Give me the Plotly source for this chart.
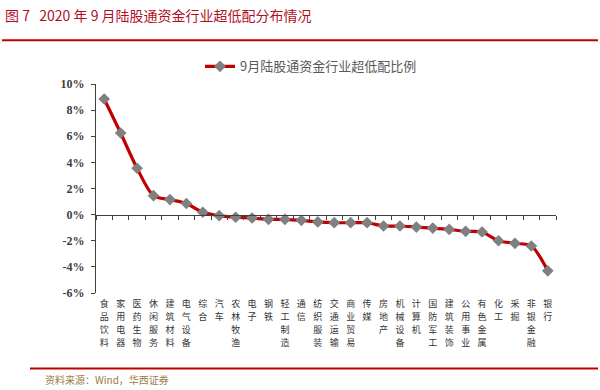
import plotly.graph_objects as go

categories = ["食品饮料", "家用电器", "医药生物", "休闲服务", "建筑材料", "电气设备", "综合", "汽车",
              "农林牧渔", "电子", "钢铁", "轻工制造", "通信", "纺织服装", "交通运输", "商业贸易",
              "传媒", "房地产", "机械设备", "计算机", "国防军工", "建筑装饰", "公用事业", "有色金属",
              "化工", "采掘", "非银金融", "银行"]
values = [8.85, 6.25, 3.55, 1.45, 1.15, 0.85, 0.18, -0.08, -0.20, -0.26, -0.36, -0.36, -0.44, -0.56,
          -0.62, -0.62, -0.62, -0.87, -0.87, -0.95, -1.03, -1.13, -1.28, -1.33, -2.00, -2.20, -2.40, -4.30]
series_name = "9月陆股通资金行业超低配比例"
y_ticks = [-6, -4, -2, 0, 2, 4, 6, 8, 10]
title_text = "图 7\u00a0\u00a0\u00a02020 年 9 月陆股通资金行业超低配分布情况"
source_text = "资料来源：Wind，华西证券"

W, H = 600, 390
L, R, T, B = 96, 44, 84.3, 97.3
pw, ph = W - L - R, H - T - B
n = len(categories)


def px_x(p):
    return (p - L) / pw


def px_y(p):
    return (H - B - p) / ph


fig = go.Figure()
fig.add_trace(go.Scatter(
    x=categories, y=values, name=series_name, mode="lines+markers",
    line=dict(color="#C00000", width=3.2, shape="spline", smoothing=0.8),
    marker=dict(symbol="diamond", size=9, color="#808080"),
))

ymin, ymax = -6, 10
zero_pos = (0 - ymin) / (ymax - ymin)
xr = [-0.5, n - 0.5]

layout_axes = dict(
    xaxis=dict(type="category", showticklabels=False, showline=False, ticks="",
               showgrid=False, zeroline=False, range=xr, automargin=False),
    xaxis2=dict(overlaying="x", anchor="free", position=zero_pos, range=xr,
                showline=True, linecolor="#404040", linewidth=1.2, ticks="outside",
                ticklen=4, tickcolor="#404040", tick0=-0.5, dtick=1,
                showticklabels=False, showgrid=False, zeroline=False, automargin=False),
    yaxis=dict(range=[ymin, ymax], tickvals=y_ticks, ticktext=[f"{v}%" for v in y_ticks],
               showline=True, linecolor="#404040", linewidth=1.2, ticks="outside", ticklen=4,
               tickcolor="#404040", showgrid=False, zeroline=False, automargin=False,
               ticklabelstandoff=4,
               tickfont=dict(family="Liberation Serif", size=12, color="#404040", weight="bold")),
)

# category labels: stacked characters, one overlay axis per character row
max_len = max(len(c) for c in categories)
row_gap = 13
for k in range(max_len):
    name = f"xaxis{3 + k}"
    layout_axes[name] = dict(
        overlaying="x", anchor="y", side="bottom", range=xr,
        tickmode="array", tickvals=list(range(n)),
        ticktext=[c[k] if len(c) > k else "" for c in categories],
        showline=False, ticks="", showgrid=False, zeroline=False, automargin=False,
        ticklabelstandoff=int(4 + k * row_gap),
        tickfont=dict(family="Noto Sans CJK SC", size=9, color="#333333"),
    )
    fig.add_trace(go.Scatter(x=[0], y=[0], xaxis=f"x{3 + k}", mode="markers",
                             marker=dict(opacity=0), showlegend=False, hoverinfo="skip"))

fig.add_trace(go.Scatter(x=[0], y=[0], xaxis="x2", mode="markers",
                         marker=dict(opacity=0), showlegend=False, hoverinfo="skip"))

fig.update_layout(
    width=W, height=H,
    margin=dict(l=L, r=R, t=T, b=B),
    paper_bgcolor="white", plot_bgcolor="white",
    showlegend=True,
    legend=dict(x=px_x(200), y=px_y(66.7), xanchor="left", yanchor="middle",
                font=dict(family="Noto Sans CJK SC", size=13, color="#595959"),
                bgcolor="rgba(0,0,0,0)"),
    shapes=[
        dict(type="line", xref="paper", yref="paper", x0=px_x(2), x1=px_x(598),
             y0=px_y(40.7), y1=px_y(40.7), line=dict(color="#C00000", width=2)),
        dict(type="line", xref="paper", yref="paper", x0=px_x(30), x1=px_x(598),
             y0=px_y(368), y1=px_y(368), line=dict(color="#C00000", width=2)),
    ],
    annotations=[
        dict(text=title_text, xref="paper", yref="paper", x=px_x(3), y=px_y(15),
             xanchor="left", yanchor="middle", showarrow=False,
             font=dict(family="Noto Sans CJK SC", size=14, color="#B0101E")),
        dict(text=source_text, xref="paper", yref="paper", x=px_x(43), y=px_y(379),
             xanchor="left", yanchor="middle", showarrow=False,
             font=dict(family="Noto Sans CJK SC", size=10, color="#9C7A45")),
    ],
    **layout_axes,
)

fig.write_html("out.html", config={"displayModeBar": False},
               post_script="document.body.style.margin='0';document.body.style.overflow='hidden';")
